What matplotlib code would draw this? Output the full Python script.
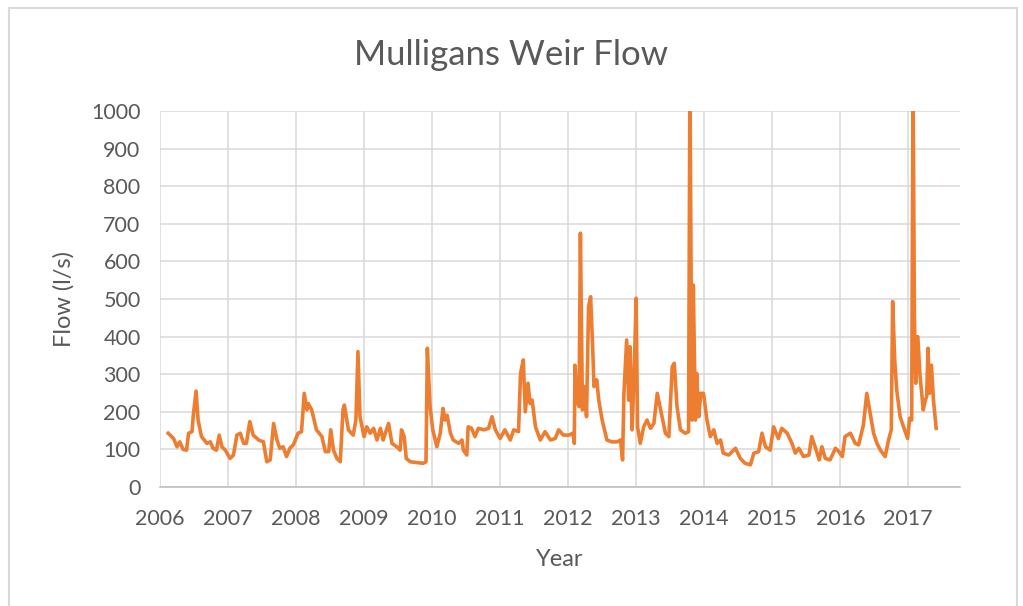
import numpy as np
import matplotlib.pyplot as plt
from matplotlib.patches import Rectangle

# Mulligans Weir flow record: decimal year and flow (l/s), ten readings per row
year = [2006.12, 2006.20, 2006.25, 2006.29, 2006.34, 2006.39, 2006.42, 2006.47, 2006.49, 2006.53,
        2006.56, 2006.61, 2006.69, 2006.74, 2006.78, 2006.83, 2006.87, 2006.91, 2006.96, 2007.03,
        2007.08, 2007.13, 2007.18, 2007.23, 2007.27, 2007.32, 2007.37, 2007.45, 2007.52, 2007.57,
        2007.62, 2007.67, 2007.72, 2007.76, 2007.81, 2007.86, 2007.91, 2007.96, 2008.03, 2008.08,
        2008.12, 2008.16, 2008.18, 2008.23, 2008.30, 2008.38, 2008.43, 2008.48, 2008.51, 2008.55,
        2008.60, 2008.65, 2008.69, 2008.71, 2008.77, 2008.84, 2008.88, 2008.91, 2008.94, 2009.00,
        2009.04, 2009.09, 2009.14, 2009.19, 2009.24, 2009.28, 2009.36, 2009.41, 2009.48, 2009.53,
        2009.55, 2009.59, 2009.62, 2009.68, 2009.77, 2009.87, 2009.91, 2009.93, 2009.97, 2010.01,
        2010.07, 2010.12, 2010.16, 2010.19, 2010.22, 2010.27, 2010.31, 2010.39, 2010.44, 2010.46,
        2010.51, 2010.53, 2010.58, 2010.63, 2010.68, 2010.76, 2010.83, 2010.88, 2010.93, 2011.00,
        2011.07, 2011.15, 2011.20, 2011.27, 2011.30, 2011.34, 2011.37, 2011.41, 2011.44, 2011.47,
        2011.52, 2011.59, 2011.66, 2011.74, 2011.81, 2011.86, 2011.93, 2012.01, 2012.07, 2012.09,
        2012.10, 2012.13, 2012.16, 2012.18, 2012.21, 2012.24, 2012.27, 2012.30, 2012.33, 2012.36,
        2012.38, 2012.42, 2012.45, 2012.50, 2012.57, 2012.64, 2012.72, 2012.77, 2012.80, 2012.82,
        2012.86, 2012.89, 2012.91, 2012.94, 2012.97, 2013.00, 2013.02, 2013.06, 2013.11, 2013.16,
        2013.21, 2013.26, 2013.31, 2013.36, 2013.43, 2013.48, 2013.53, 2013.56, 2013.60, 2013.65,
        2013.72, 2013.77, 2013.79, 2013.82, 2013.84, 2013.87, 2013.89, 2013.92, 2013.95, 2013.99,
        2014.04, 2014.09, 2014.14, 2014.19, 2014.24, 2014.28, 2014.36, 2014.46, 2014.53, 2014.60,
        2014.68, 2014.73, 2014.80, 2014.85, 2014.90, 2014.97, 2015.02, 2015.09, 2015.14, 2015.22,
        2015.29, 2015.34, 2015.39, 2015.46, 2015.54, 2015.58, 2015.63, 2015.69, 2015.73, 2015.78,
        2015.85, 2015.93, 2015.98, 2016.03, 2016.07, 2016.15, 2016.22, 2016.27, 2016.34, 2016.39,
        2016.44, 2016.49, 2016.54, 2016.59, 2016.66, 2016.71, 2016.75, 2016.77, 2016.80, 2016.83,
        2016.88, 2016.93, 2016.99, 2017.02, 2017.05, 2017.07, 2017.09, 2017.11, 2017.14, 2017.17,
        2017.22, 2017.25, 2017.27, 2017.29, 2017.31, 2017.34, 2017.37, 2017.41]
flow = [143, 129, 107, 120, 100, 98, 143, 147, 191, 255,
        178, 134, 116, 120, 103, 98, 138, 107, 98, 76,
        85, 138, 143, 116, 116, 174, 138, 125, 120, 67,
        72, 169, 125, 103, 107, 81, 103, 112, 143, 147,
        249, 205, 222, 205, 152, 134, 94, 94, 152, 98,
        76, 67, 205, 218, 152, 138, 178, 360, 187, 134,
        160, 143, 156, 125, 156, 125, 169, 116, 107, 98,
        152, 134, 76, 67, 65, 63, 67, 369, 214, 152,
        107, 143, 209, 178, 191, 143, 125, 116, 125, 98,
        85, 160, 156, 134, 156, 152, 156, 187, 152, 129,
        152, 125, 152, 147, 302, 338, 200, 276, 222, 231,
        160, 125, 147, 125, 129, 152, 138, 138, 143, 116,
        324, 231, 214, 675, 205, 267, 187, 480, 506, 373,
        267, 285, 231, 178, 125, 120, 120, 125, 72, 249,
        391, 231, 373, 152, 302, 502, 160, 116, 160, 178,
        156, 169, 249, 205, 143, 134, 320, 329, 214, 152,
        143, 147, 1100, 178, 537, 178, 302, 187, 249, 249,
        178, 134, 152, 116, 125, 90, 85, 103, 76, 63,
        59, 90, 94, 143, 107, 98, 160, 129, 156, 143,
        116, 90, 103, 81, 85, 134, 107, 72, 107, 76,
        72, 103, 94, 81, 134, 143, 116, 112, 165, 249,
        196, 143, 116, 98, 81, 125, 152, 493, 338, 258,
        187, 160, 129, 183, 178, 1100, 453, 276, 400, 302,
        205, 231, 240, 369, 249, 324, 231, 156]

years = list(range(2006, 2018))
yticks = list(range(0, 1001, 100))

text_col = '#595959'
grid_col = '#D9D9D9'
line_col = '#ED7D31'

plt.rcParams['font.family'] = ['Lato', 'DejaVu Sans']

fig = plt.figure(figsize=(10.23, 6.06), dpi=100)
# light frame round the whole chart
fig.patches.append(Rectangle((0.0088, -0.05), 0.9853, 1.0368, transform=fig.transFigure,
                             fill=False, edgecolor='#D9D9D9', linewidth=1.5))
ax = fig.add_axes([0.1564, 0.1964, 0.7820, 0.6204])

ax.plot(year, flow, color=line_col, linewidth=2.6, solid_joinstyle='round')

ax.set_xlim(2006, 2017.76)
ax.set_ylim(0, 1000)
ax.set_xticks(years)
ax.set_xticklabels([str(y) for y in years])
ax.set_yticks(yticks)

ax.grid(True, color=grid_col, linewidth=1.1)
ax.set_axisbelow(True)
for s in ['top', 'right', 'left']:
    ax.spines[s].set_visible(False)
ax.spines['bottom'].set_color('#BFBFBF')
ax.spines['bottom'].set_linewidth(1.2)
ax.tick_params(length=0, labelsize=15.5, colors=text_col)
ax.tick_params(axis='x', pad=16)
ax.tick_params(axis='y', pad=14)

fig.text(0.5, 1 - 65 / 606, 'Mulligans Weir Flow', fontsize=25, color=text_col,
         ha='center', va='baseline')
ax.set_xlabel('Year', fontsize=17, color=text_col, labelpad=14)
ax.set_ylabel('Flow (l/s)', fontsize=17, color=text_col, labelpad=12)

plt.savefig('out.png', dpi=100)
